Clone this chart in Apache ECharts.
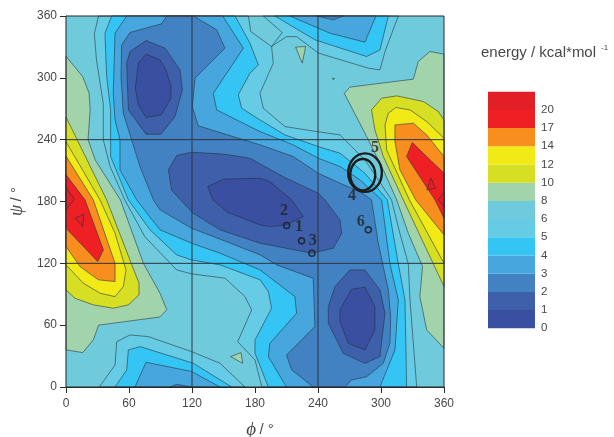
<!DOCTYPE html>
<html><head><meta charset="utf-8">
<style>html,body{margin:0;padding:0;background:#fff}#c{width:614px;height:437px}</style>
<script src="https://cdn.jsdelivr.net/npm/echarts@6/dist/echarts.min.js"></script>
</head><body><div id="c"></div>
<script>
const gridAt=[120,240];
const bandLabels=['0','1','2','3','4','5','6','8','10','12','14','17','20'];
const bandColors=['#3b4fa0','#3e5fa9','#4282c3','#46a6dd','#35c5f4','#66cbe4','#6fcbdb','#a2d4ac','#d6df24','#f2ea17','#f78e1e','#ee2024','#e21e26'];
// filled contour outlines [phi, psi], per energy level
const whole=[[[0,0],[360,0],[360,360],[0,360]]];
const below6=[
[[31,360],[27,343],[29,317.5],[35.5,275],[35.5,240],[42,214],[56,181.6],[75,146],[105.4,113.6],[119.7,109.8],[151.4,105.6],[170.5,87.7],[176.8,74.8],[163.5,44],[180,26.3],[186,2],[187,0],[334,0],[330.8,42.4],[327.6,84.5],[326,119.5],[318,149],[310,181.6],[297.4,201],[284.7,220.4],[261,244.6],[238.7,247.9],[208.5,252.7],[187.9,270.5],[184.7,285],[197.4,314.2],[195.8,330.4],[184.7,338.5],[175.9,345],[173.7,360]],
[[31.7,0],[46.7,21.4],[48.3,44],[61,50.5],[78.4,48.9],[119.7,34.3],[146.7,23],[170.5,0]],
[[195.8,330.4],[210.1,340],[219.6,340],[240.3,324],[287.9,309.4],[299,307.7],[303.8,325.5],[316.5,360],[187.9,360],[206,344]]
];
const below5=[
[[43.5,360],[37.1,343.3],[38.7,301.3],[42.5,268.9],[42.5,223.6],[59.4,181.6],[80,152.5],[105.4,128.2],[119.7,123.3],[146.7,118.5],[184.8,104],[192.7,92.6],[195.8,76.4],[180,45.7],[180,32.7],[192.7,0],[324.4,0],[323.8,36],[322.8,84.5],[316.5,119.5],[306,181.6],[284.7,207.4],[261,226.8],[240.3,233.3],[208.5,244.6],[184.7,259.2],[167.3,270.5],[164.1,283.5],[175.2,304.5],[183.2,312.6],[175.2,333.6],[161,360]],
[[46.7,0],[57.8,16.5],[59.4,36],[70.5,39.2],[121.3,23],[157.8,0]],
[[199,360],[237,336.9],[286.3,320.7],[299,327],[307,360]]
];
const below4=[
[[57.8,360],[46.7,343.3],[45,285],[46.7,259],[51.4,239.8],[51.4,210.7],[67.3,181.6],[89.5,152.5],[119.7,139.5],[146.7,129.8],[184.8,113.6],[218,87.7],[219.6,71.6],[194.2,42.4],[192.7,29.5],[210,0],[299,0],[313.3,36],[316.5,84.5],[308.5,119.5],[300.6,181.6],[280,201],[261,213.9],[240.3,222],[216.5,234.9],[184.7,247.9],[143.5,268.9],[140.3,285],[168.9,328.8],[149.2,360]],
[[65.7,0],[76.2,24],[119.7,15],[146.7,0]],
[[213.3,360],[251.4,343.3],[284.7,334.6],[295.2,360]]
];
const below3=[
[[96,360],[91,352.4],[61,344],[53,332],[52.4,301.3],[54.6,265.7],[62.5,239.8],[70.5,213.9],[83.2,181.6],[89.5,171.9],[119.7,154],[153,141],[184.8,128.2],[200.6,118.5],[235.5,105.5],[237,58.6],[210,31],[215,16.5],[235.5,0],[265.7,0],[272,6.8],[286.3,10],[302.2,23],[308.5,42.4],[309.2,68.3],[307,94.2],[302.2,116.9],[297.4,139.5],[291,181.6],[280,189.6],[261,197.7],[240.3,207.4],[216.5,223.6],[184.7,235],[126,253.4],[120.3,272],[122.9,299.7],[151.4,328.8],[143.5,346.6],[121.3,360]],
[[99,0],[105.4,2.6],[119.7,0]],
[[238.7,360],[254.6,356.3],[264,360]]
];
const below2=[
[[119.7,227.8],[105.4,224.6],[97.5,210.7],[100.6,191],[109,181.6],[121,168.7],[146.7,152.5],[184.8,139.5],[234,129.8],[254.6,134.7],[262.5,149],[261,162],[246.6,181.6],[240.3,188],[207,204],[175.2,222],[150,226]],
[[76.2,336.2],[94.3,328.8],[108.6,307.7],[110.8,288.3],[103.8,262.4],[90.5,245.3],[76.2,245.3],[59.4,268.9],[57.8,314.2],[61,325.5]],
[[270.4,113.6],[284.7,113.6],[299,94.2],[303.8,71.6],[299,29.5],[284.7,23],[264,32.7],[249.8,61.9],[249.8,78],[256.2,97.5]]
];
const below1=[
[[135,194.5],[150,201.6],[185,202.6],[194,199.3],[215,181.5],[226,165.4],[210,157.3],[194,155.7],[184.8,157.3],[153,170],[140,181.6]],
[[76.2,323],[89.5,317.5],[95.2,307.7],[100,291.6],[100,280.2],[90.5,264],[76.2,261.5],[68.9,273.8],[66,290],[68.9,314.2]],
[[272,94.9],[284.7,96.8],[294.2,78],[294.2,55.4],[284.7,36],[268.9,42.4],[260.9,63.5],[260.9,74.8]]
];
const above8=[
[[0,321],[16,301],[22,285],[23,269],[21,240],[28,220],[51.8,181.6],[73.7,120],[89.5,91],[96,75],[89.5,68],[31,60],[26,45.7],[16,33.4],[0,36]],
[[265,285],[270.4,291],[330.8,298.7],[335.5,315.8],[346.6,325.5],[360,323],[360,37.6],[343.5,55.4],[337,87.7],[339.6,116.9],[326,149.2],[314.9,181.6],[302.2,210.7],[284.7,246.3]],
[[218.7,329.8],[228.2,330.4],[225,314.2]],
[[156.8,29.5],[166.7,33.4],[168.3,23]],
[[253.6,299.5],[255.6,299.5],[254.6,298]]
];
const above10=[
[[0,262],[38.7,181.6],[69.5,100.7],[69.5,89.4],[59.4,79.7],[45,76.4],[26,79.7],[8.6,86.1],[0,94.2]],
[[291,268.9],[300.6,280.2],[314.9,282.5],[340.3,277],[354.6,267.3],[360,259],[360,97.5],[321.2,181.6],[302.2,223.6],[294.2,249.5]]
];
const above12=[
[[0,238],[32.4,181.6],[46.7,149.2],[57.1,113.6],[54.6,97.5],[46.7,87.7],[32.4,91],[16.5,100.7],[0,118.5]],
[[303.8,254.3],[307,265.7],[314.2,271.2],[327.6,268.9],[343.5,257.6],[360,241.4],[360,120],[327,181.6],[305.4,230]]
];
const above14=[
[[0,224],[26,181.6],[46.7,120],[46.7,102.3],[30.8,104],[13.3,116.9],[0,136.3]],
[[313.3,254.3],[330.8,256],[343.5,244.6],[360,223.6],[360,147.6],[333,181.6],[318,210.7],[313.3,238]]
];
const above17=[
[[0,206],[18.1,181.6],[35.6,133],[30.2,121.7],[0,154.1]],
[[329.8,237.2],[340.3,226.8],[360,207.4],[360,163.8],[351.4,181.6],[324.4,223.6]]
];
const above20=[
[[8.6,163.8],[17.1,167.7],[15.9,155.7]],
[[0,194],[8,182],[0,172]],
[[347.6,202.6],[352,192.9],[343.5,191.2]],
[[360,189.6],[354.6,181.6],[360,175.1]]
];
const contourStack=[[whole,6],[below6,5],[below5,4],[below4,3],[below3,2],[below2,1],[below1,0],[above8,7],[above10,8],[above12,9],[above14,10],[above17,11],[above20,12]];
const conformers=[[224.4,141.8],[210.1,156.7],[234.2,129.8],[287.9,152.5]];
const ringCenters=[[284.8,208],[282.6,206]];
const ringRadii=[[16,18.7],[11.9,15.2]];
const pointNames=['2','1','3','6','4','5'];
const pointNameAt=[[207.6,170.8],[222,155.3],[235,141.7],[280.7,160],[272.4,185.4],[294.3,232]];

const shapes=[];
contourStack.forEach(([polys,band])=>polys.forEach(p=>shapes.push({p,band})));
const chart=echarts.init(document.getElementById('c'));
const txt='#484848',sans='"Liberation Sans",Arial,sans-serif',ser='"Liberation Serif",serif';
const bandSeries=bandColors.map((c,i)=>({type:'bar',xAxisIndex:1,yAxisIndex:1,stack:'b',barWidth:'100%',silent:true,data:[1],itemStyle:{color:c}}));
chart.setOption({
 animation:false,
 graphic:[
  {type:'text',left:481,top:45,style:{text:'energy / kcal*mol',fontFamily:sans,fontSize:15,fill:txt}},
  {type:'text',left:601,top:44,style:{text:'-1',fontFamily:sans,fontSize:8,fill:txt}}
 ],
 grid:[{left:66,top:16,width:378,height:371,outerBoundsMode:'none'},{left:488,top:91.7,width:47,height:236.6,outerBoundsMode:'none'}],
 xAxis:[
  {type:'value',min:0,max:360,interval:60,gridIndex:0,splitLine:{show:false},
   axisLine:{onZero:false,lineStyle:{color:'#2a2a2a',width:1.2}},axisTick:{length:6,lineStyle:{color:'#2a2a2a'}},
   axisLabel:{color:txt,fontFamily:sans,fontSize:12,margin:11},
   name:'{i|\u03d5} {n|/ \u00b0}',nameLocation:'middle',nameGap:33,nameTextStyle:{padding:[0,0,0,10],rich:{i:{fontFamily:ser,fontStyle:'italic',fontSize:19,color:txt},n:{fontFamily:sans,fontSize:15,color:txt}}}},
  {type:'category',gridIndex:1,data:[''],show:false}
 ],
 yAxis:[
  {type:'value',min:0,max:360,interval:60,gridIndex:0,splitLine:{show:false},
   axisLine:{onZero:false,lineStyle:{color:'#2a2a2a',width:1.2}},axisTick:{length:6,lineStyle:{color:'#2a2a2a'}},
   axisLabel:{color:txt,fontFamily:sans,fontSize:12,margin:9},
   name:'{i|\u03c8} {n|/ \u00b0}',nameLocation:'middle',nameGap:40,nameRotate:90,nameTextStyle:{rich:{i:{fontFamily:ser,fontStyle:'italic',fontSize:18,color:txt},n:{fontFamily:sans,fontSize:15,color:txt}}}},
  {type:'value',gridIndex:1,min:0,max:13,interval:1,position:'right',splitLine:{show:false},axisLine:{show:false},axisTick:{show:false},
   axisLabel:{color:txt,fontFamily:sans,fontSize:11.5,margin:6,padding:[6,0,0,0],formatter:(v)=>bandLabels[v]||''}}
 ],
 series:[
  {type:'custom',coordinateSystem:'cartesian2d',silent:true,z:2,data:shapes.map((s,i)=>[i]),encode:{x:0},
   renderItem:(params,api)=>{
    const s=shapes[params.dataIndex];
    return {type:'polygon',shape:{points:s.p.map(q=>api.coord(q))},
     style:{fill:bandColors[s.band],stroke:s.p===whole[0]?'none':'rgba(35,45,60,0.7)',lineWidth:0.8,lineJoin:'round'}};
   }},
  {type:'custom',coordinateSystem:'cartesian2d',silent:true,z:3,data:gridAt.map(v=>[v]),encode:{x:0},
   renderItem:(params,api)=>{
    const v=gridAt[params.dataIndex];
    const st={stroke:'#2b3440',lineWidth:1};
    return {type:'group',children:[
     {type:'line',shape:{x1:api.coord([v,0])[0],y1:api.coord([v,0])[1],x2:api.coord([v,360])[0],y2:api.coord([v,360])[1]},style:st},
     {type:'line',shape:{x1:api.coord([0,v])[0],y1:api.coord([0,v])[1],x2:api.coord([360,v])[0],y2:api.coord([360,v])[1]},style:st}
    ]};
   }},
  {type:'custom',coordinateSystem:'cartesian2d',silent:true,z:4,data:[[0]],encode:{x:0},
   renderItem:(params,api)=>{
    const a=api.coord([0,360]),b=api.coord([360,0]);
    return {type:'rect',shape:{x:a[0],y:a[1],width:b[0]-a[0],height:b[1]-a[1]},style:{fill:'none',stroke:'#2a2a2a',lineWidth:1}};
   }},
  {type:'custom',coordinateSystem:'cartesian2d',silent:true,z:5,data:ringCenters,encode:{x:0,y:1},
   renderItem:(params,api)=>{
    const c=api.coord(ringCenters[params.dataIndex]),r=ringRadii[params.dataIndex],sz=api.size(r);
    return {type:'ellipse',shape:{cx:c[0],cy:c[1],rx:sz[0],ry:sz[1]},style:{fill:'none',stroke:'#1c1c1c',lineWidth:2.4}};
   }},
  {type:'scatter',silent:true,z:6,symbol:'circle',symbolSize:6,data:conformers,itemStyle:{color:'rgba(0,0,0,0)',borderColor:'#1c1c1c',borderWidth:1.6}},
  {type:'scatter',silent:true,z:7,symbolSize:0,data:pointNameAt.map((v,i)=>({value:v,name:pointNames[i]})),
   label:{show:true,position:'inside',formatter:'{b}',fontFamily:ser,fontWeight:'bold',fontSize:16,color:'#222'}},
  ...bandSeries
 ]
});
</script></body></html>
